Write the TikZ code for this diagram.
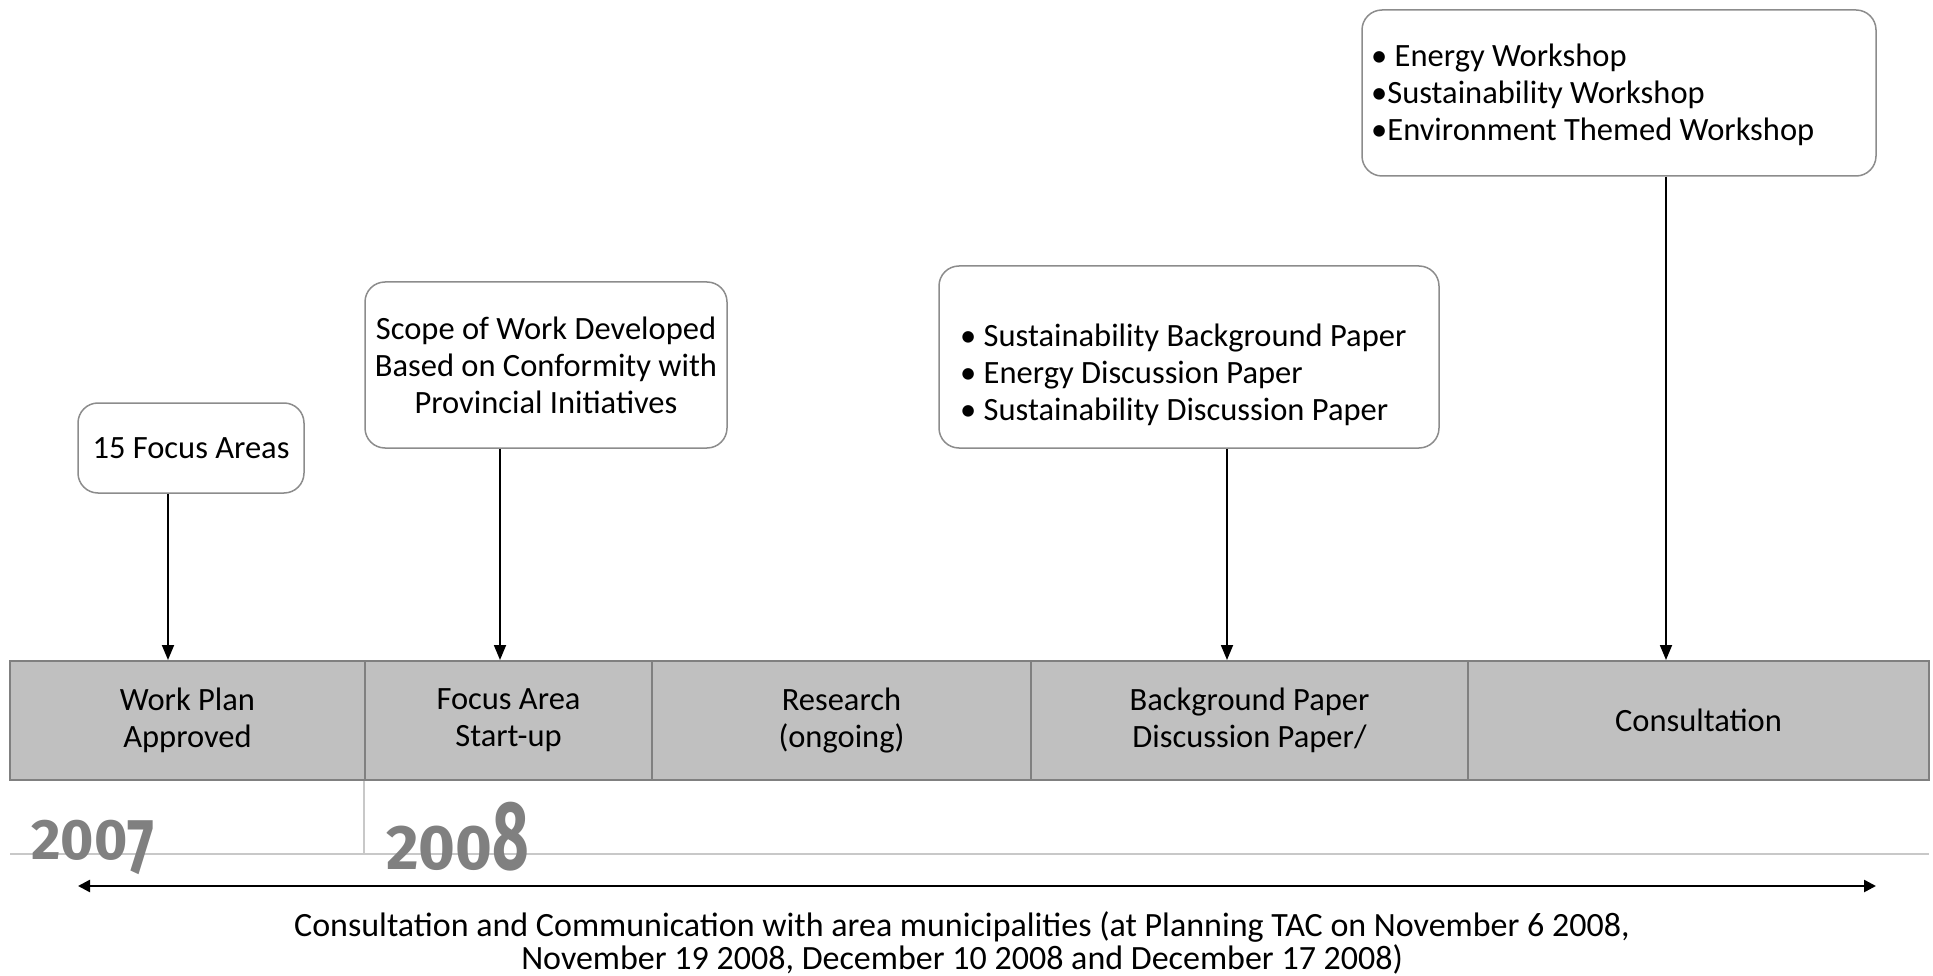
\documentclass[tikz,border=0pt]{standalone}
\usepackage{fontspec}
\usepackage{graphicx}
\setmainfont{Carlito}
\newfontfamily\yearfont{Fira Sans}
\usetikzlibrary{arrows.meta,positioning}
\definecolor{boxline}{HTML}{8C8C8C}
\definecolor{barfill}{HTML}{C0C0C0}
\definecolor{barline}{HTML}{808080}
\definecolor{yeargray}{HTML}{808080}
\definecolor{thingray}{HTML}{C8C8C8}
\begin{document}
\begin{tikzpicture}[x=1pt,y=-1pt,
  txt/.style={font=\fontsize{32.5}{37}\selectfont},
  callout/.style={draw=boxline,line width=1.5pt,rounded corners=20pt,fill=white,inner sep=0pt},
  ctext/.style={txt,inner sep=0pt,align=left,anchor=north west},
  seg/.style={txt,draw=barline,line width=2pt,fill=barfill,minimum height=119pt,align=center,inner sep=0pt},
  arr/.style={line width=1.8pt,-{Triangle[length=15pt,width=12pt]}},
  year/.style={font=\yearfont\bfseries\fontsize{#1}{#1}\selectfont,text=yeargray,anchor=base west,inner sep=0pt}
]
\useasboundingbox (0,0) rectangle (1933,976);

% timeline segments
\node[seg,minimum width=355pt] (s1) at (187.5,720.5) {Work Plan\\Approved};
\node[seg,minimum width=287pt] (s2) at (508.5,720.5) {Focus Area\\Start-up};
\node[seg,minimum width=379pt] (s3) at (841.5,720.5) {Research\\(ongoing)};
\node[seg,minimum width=437pt] (s4) at (1249.5,720.5) {Background Paper\\Discussion Paper/};
\node[seg,minimum width=461pt] (s5) at (1698.5,720.5) {Consultation};

% callout boxes
\node[callout,txt,minimum width=226pt,minimum height=90pt,align=center] (b1) at (191,448) {15 Focus Areas};
\node[callout,txt,minimum width=362pt,minimum height=166pt,align=center] (b2) at (546,365) {Scope of Work Developed\\Based on Conformity with\\Provincial Initiatives};
\node[callout,minimum width=500pt,minimum height=182pt] (b3) at (1189,357) {};
\node[ctext] (b3t) at (960,324) {\textbullet\ Sustainability Background Paper\\\textbullet\ Energy Discussion Paper\\\textbullet\ Sustainability Discussion Paper};
\node[callout,minimum width=514pt,minimum height=166pt] (b4) at (1619,93) {};
\node[ctext] (b4t) at (1371,44) {\textbullet\ Energy Workshop\\\textbullet Sustainability Workshop\\\textbullet Environment Themed Workshop};

% arrow positions
\coordinate (x1) at (168,0);
\coordinate (x2) at (500,0);
\coordinate (x3) at (1227,0);
\coordinate (x4) at (1666,0);
\draw[arr] (b1.south -| x1) -- (s1.north -| x1);
\draw[arr] (b2.south -| x2) -- (s2.north -| x2);
\draw[arr] (b3.south -| x3) -- (s4.north -| x3);
\draw[arr] (b4.south -| x4) -- (s5.north -| x4);

% year divider lines
\coordinate (gl) at (10,854);
\coordinate (gr) at (1929,854);
\draw[thingray,line width=2pt] (gl) -- (gr);
\draw[thingray,line width=1.5pt] (s2.south west) -- (s2.south west |- gl);

% years
\node[year=57] (y7) at (31,859) {200\raisebox{-14pt}{\scalebox{1}[1.37]{7}}};
\node[year=63] (y8) at (386,869) {200\scalebox{1}[1.55]{8}};

% communication arrow
\coordinate (cl) at (78,886);
\coordinate (cr) at (1876,886);
\draw[line width=2.5pt,{Triangle[length=12pt,width=12pt]}-{Triangle[length=12pt,width=12pt]}] (cl) -- (cr);
\node[font=\fontsize{34}{33}\selectfont,align=center,inner sep=0pt] (comm) at (962,943) {Consultation and Communication with area municipalities (at Planning TAC on November 6 2008,\\November 19 2008, December 10 2008 and December 17 2008)};
\end{tikzpicture}
\end{document}
